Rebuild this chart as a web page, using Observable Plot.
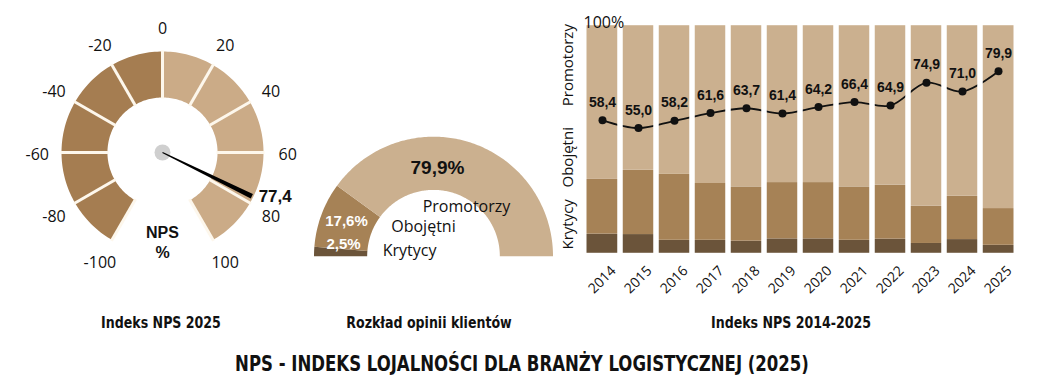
<!DOCTYPE html>
<html>
<head>
<meta charset="utf-8">
<script src="https://cdn.jsdelivr.net/npm/d3@7"></script>
<script src="https://cdn.jsdelivr.net/npm/@observablehq/plot@0.6"></script>
<style>
  body { margin: 0; background: #fff; }
  #root { position: relative; width: 1045px; height: 389px; overflow: hidden; background: #fff; }
  #root svg { position: absolute; }
  .cap { position: absolute; transform: translate(-50%, -50%) scaleX(0.875); white-space: nowrap; color: #111;
         font-family: "Liberation Sans Narrow", "DejaVu Sans Condensed", "Liberation Sans", sans-serif;
         font-weight: bold; font-stretch: condensed; }
</style>
</head>
<body>
<div id="root"></div>
<script>
// ---------------- DATA ----------------
const gaugeTicks = [-100, -80, -60, -40, -20, 0, 20, 40, 60, 80, 100];
const npsValue = 77.4;
const opinionLabels = ["Krytycy", "Obojętni", "Promotorzy"];
const opinionShares = [2.5, 17.6, 79.9];
const years = [2014, 2015, 2016, 2017, 2018, 2019, 2020, 2021, 2022, 2023, 2024, 2025];
const krytycy   = [8.5, 8.3, 5.8, 5.8, 5.4, 6.4, 6.4, 5.8, 6.3, 4.4, 6.1, 3.6];
const obojetni  = [24.0, 28.2, 28.9, 24.9, 23.8, 24.7, 24.7, 23.4, 23.7, 16.4, 19.0, 16.1];
const promotorzy = [67.5, 63.5, 65.3, 69.3, 70.8, 68.9, 68.9, 70.8, 70.0, 79.2, 74.9, 80.3];
const npsSeries = [58.4, 55.0, 58.2, 61.6, 63.7, 61.4, 64.2, 66.4, 64.9, 74.9, 71.0, 79.9];
const captions = ["Indeks NPS 2025", "Rozkład opinii klientów", "Indeks NPS 2014-2025"];
const mainTitle = "NPS - INDEKS LOJALNOŚCI DLA BRANŻY LOGISTYCZNEJ (2025)";

// ---------------- STYLE ----------------
const GAUGE_DARK = "#a57d51", GAUGE_LIGHT = "#cbab87", GAUGE_SEP = "#fdf7ec";
const OPINION_COLORS = ["#6b543a", "#a68256", "#cbb08f"];
const SANS = "'Open Sans', 'Noto Sans', sans-serif";
const BOLD = "'Liberation Sans', Arial, sans-serif";
const fmt = v => v.toFixed(1).replace(".", ",");
const root = document.getElementById("root");

// ---------------- GAUGE ----------------
const G = {w: 330, h: 300, cx: 162, cy: 152, unit: 101, ri: 0.545, ro: 1.0, labelR: 1.24};
const ang = v => v * 1.5 * Math.PI / 180;
const gp = (v, r) => ({x: r * Math.sin(ang(v)), y: r * Math.cos(ang(v))});
function ring(v0, v1, r0, r1, id) {
  const n = Math.max(2, Math.ceil(Math.abs(v1 - v0)));
  const pts = [];
  for (let i = 0; i <= n; i++) pts.push({...gp(v0 + (v1 - v0) * i / n, r1), id});
  for (let i = n; i >= 0; i--) pts.push({...gp(v0 + (v1 - v0) * i / n, r0), id});
  return pts;
}
const segs = d3.pairs(gaugeTicks).map(([a, b], i) => ring(a, b, G.ri, G.ro, i));
const darkPts = segs.filter((s, i) => gaugeTicks[i + 1] <= 0).flat();
const lightPts = segs.filter((s, i) => gaugeTicks[i + 1] > 0).flat();
const shadowPts = ring(gaugeTicks[0], gaugeTicks[gaugeTicks.length - 1], G.ri + 0.05, G.ro + 0.02, "s");
const na = ang(npsValue), perp = [Math.cos(na), -Math.sin(na)];
const needle = [
  {x: perp[0] * 0.006, y: perp[1] * 0.006},
  {x: 0.985 * Math.sin(na) + perp[0] * 0.024, y: 0.985 * Math.cos(na) + perp[1] * 0.024},
  {x: 0.985 * Math.sin(na) - perp[0] * 0.024, y: 0.985 * Math.cos(na) - perp[1] * 0.024},
  {x: -perp[0] * 0.006, y: -perp[1] * 0.006}
];
const gaugePlot = Plot.plot({
  width: G.w, height: G.h, margin: 0,
  style: {background: "transparent", overflow: "visible"},
  x: {domain: [-G.cx / G.unit, (G.w - G.cx) / G.unit], axis: null},
  y: {domain: [-(G.h - G.cy) / G.unit, G.cy / G.unit], axis: null},
  marks: [
    Plot.line(shadowPts, {x: "x", y: "y", fill: "#8c8c8c", stroke: "#8c8c8c", strokeWidth: 6, curve: "linear-closed", ariaLabel: "shadow"}),
    Plot.line(darkPts, {x: "x", y: "y", z: "id", fill: GAUGE_DARK, stroke: "none", curve: "linear-closed"}),
    Plot.line(lightPts, {x: "x", y: "y", z: "id", fill: GAUGE_LIGHT, stroke: "none", curve: "linear-closed"}),
    Plot.link(gaugeTicks, {x1: v => gp(v, G.ri - 0.01).x, y1: v => gp(v, G.ri - 0.01).y, x2: v => gp(v, G.ro + 0.01).x, y2: v => gp(v, G.ro + 0.01).y, stroke: GAUGE_SEP, strokeWidth: 3}),
    Plot.dot([0], {x: 0, y: 0, r: 8, fill: "#cfcfcf"}),
    Plot.line(needle, {x: "x", y: "y", fill: "#000", stroke: "none", curve: "linear-closed"}),
    Plot.text(gaugeTicks, {x: v => gp(v, G.labelR).x, y: v => gp(v, G.labelR).y, text: v => String(v), dy: 2, fontSize: 16, fontFamily: SANS, fill: "#111"}),
    Plot.text([npsValue], {x: v => gp(v, 1.06).x, y: v => gp(v, 1.06).y, text: fmt, textAnchor: "start", dy: -3, fontSize: 17, fontWeight: "bold", fontFamily: BOLD, fill: "#111"}),
    Plot.text(["NPS", "%"], {x: 0, y: (d, i) => [-0.8, -0.99][i], text: d => d, fontSize: 16, fontWeight: "bold", fontFamily: BOLD, fill: "#111"})
  ]
});
gaugePlot.style.left = "0px"; gaugePlot.style.top = "0px";
d3.select(gaugePlot).selectAll("g[aria-label=shadow]").style("filter", "blur(5px)").style("opacity", 0.6);
root.appendChild(gaugePlot);

// ---------------- HALF DONUT ----------------
const D = {w: 260, h: 140, cx: 133, cy: 135.7, unit: 119.5, ri: 0.555, ro: 1.0};
const dp = (c, r) => ({x: r * Math.cos(Math.PI * (1 - c / 100)), y: r * Math.sin(Math.PI * (1 - c / 100))});
const cum = d3.cumsum(opinionShares);
const slices = opinionShares.map((s, i) => {
  const c0 = cum[i] - s, c1 = cum[i];
  const n = Math.max(2, Math.ceil((c1 - c0) * 2));
  const pts = [];
  for (let k = 0; k <= n; k++) pts.push({...dp(c0 + (c1 - c0) * k / n, D.ro), cat: opinionLabels[i]});
  for (let k = n; k >= 0; k--) pts.push({...dp(c0 + (c1 - c0) * k / n, D.ri), cat: opinionLabels[i]});
  return pts;
}).flat();
const donutText = [
  {t: fmt(opinionShares[2]) + "%", x: 0.033, y: 0.742, c: "#111", w: "bold", s: 19, f: BOLD},
  {t: fmt(opinionShares[1]) + "%", x: -0.728, y: 0.29, c: "#fff", w: "bold", s: 15, f: BOLD},
  {t: fmt(opinionShares[0]) + "%", x: -0.753, y: 0.098, c: "#fff", w: "bold", s: 15, f: BOLD},
  {t: opinionLabels[2], x: 0.276, y: 0.416, c: "#111", w: "normal", s: 16, f: SANS},
  {t: opinionLabels[1], x: -0.084, y: 0.249, c: "#111", w: "normal", s: 16, f: SANS},
  {t: opinionLabels[0], x: -0.2, y: 0.048, c: "#111", w: "normal", s: 16, f: SANS}
];
const donutPlot = Plot.plot({
  width: D.w, height: D.h, margin: 0,
  style: {background: "transparent", overflow: "visible"},
  x: {domain: [-D.cx / D.unit, (D.w - D.cx) / D.unit], axis: null},
  y: {domain: [-(D.h - D.cy) / D.unit, D.cy / D.unit], axis: null},
  color: {domain: opinionLabels, range: OPINION_COLORS},
  marks: [
    Plot.line(slices, {x: "x", y: "y", z: "cat", fill: "cat", stroke: "none", curve: "linear-closed"}),
    ...donutText.map(d => Plot.text([d], {x: "x", y: "y", text: "t", fill: d.c, fontWeight: d.w, fontSize: d.s, fontFamily: d.f}))
  ]
});
donutPlot.style.left = "300px"; donutPlot.style.top = "120px";
root.appendChild(donutPlot);

// ---------------- STACKED BARS ----------------
const barData = years.flatMap((yr, i) => [
  {year: yr, cat: opinionLabels[0], value: krytycy[i]},
  {year: yr, cat: opinionLabels[1], value: obojetni[i]},
  {year: yr, cat: opinionLabels[2], value: promotorzy[i]}
]);
const npsData = years.map((yr, i) => ({year: yr, nps: npsSeries[i]}));
const axisLabelRows = [
  {label: opinionLabels[0], y: 12.8},
  {label: opinionLabels[1], y: 42.2},
  {label: opinionLabels[2], y: 82.6}
];
const barPlot = Plot.plot({
  width: 490, height: 300,
  marginLeft: 26, marginRight: 26, marginTop: 25, marginBottom: 47,
  style: {background: "transparent", overflow: "visible"},
  x: {type: "band", domain: years, padding: 0, axis: null},
  y: {domain: [0, 100], axis: null},
  color: {domain: opinionLabels, range: OPINION_COLORS},
  marks: [
    Plot.barY(barData, {x: "year", y: "value", fill: "cat"}),
    Plot.line(npsData, {x: "year", y: "nps", stroke: "#111", strokeWidth: 1.8, curve: "catmull-rom"}),
    Plot.barY(years, {x: d => d, y1: -1, y2: 101, fill: "none", stroke: "#fff", strokeWidth: 5}),
    Plot.dot(npsData, {x: "year", y: "nps", r: 4, fill: "#111"}),
    Plot.text(npsData, {x: "year", y: "nps", text: d => fmt(d.nps), dy: -18, fontSize: 14, fontWeight: "bold", fontFamily: BOLD, fill: "#111"}),
    Plot.text(axisLabelRows, {y: "y", text: "label", frameAnchor: "left", textAnchor: "middle", lineAnchor: "middle", rotate: -90, dx: -13, fontSize: 15, fontFamily: SANS, fill: "#111"}),
    Plot.text(["100%"], {text: d => d, frameAnchor: "top-left", textAnchor: "start", dx: 2, dy: -9, fontSize: 16, fontFamily: SANS, fill: "#111"}),
    Plot.text(years, {x: d => d, text: d => String(d), frameAnchor: "bottom", rotate: -45, textAnchor: "end", lineAnchor: "middle", dx: 11, dy: 15, fontSize: 14, fontFamily: SANS, fill: "#111"})
  ]
});
barPlot.style.left = "555px"; barPlot.style.top = "0px";
root.appendChild(barPlot);

// ---------------- CAPTIONS ----------------
const capPos = [[161, 322], [429, 322], [791, 322]];
captions.forEach((c, i) => {
  const el = document.createElement("div");
  el.className = "cap"; el.textContent = c;
  el.style.left = capPos[i][0] + "px"; el.style.top = capPos[i][1] + "px"; el.style.fontSize = "16px";
  root.appendChild(el);
});
const t = document.createElement("div");
t.className = "cap"; t.textContent = mainTitle;
t.style.left = "522px"; t.style.top = "364px"; t.style.fontSize = "21px";
root.appendChild(t);
</script>
</body>
</html>
